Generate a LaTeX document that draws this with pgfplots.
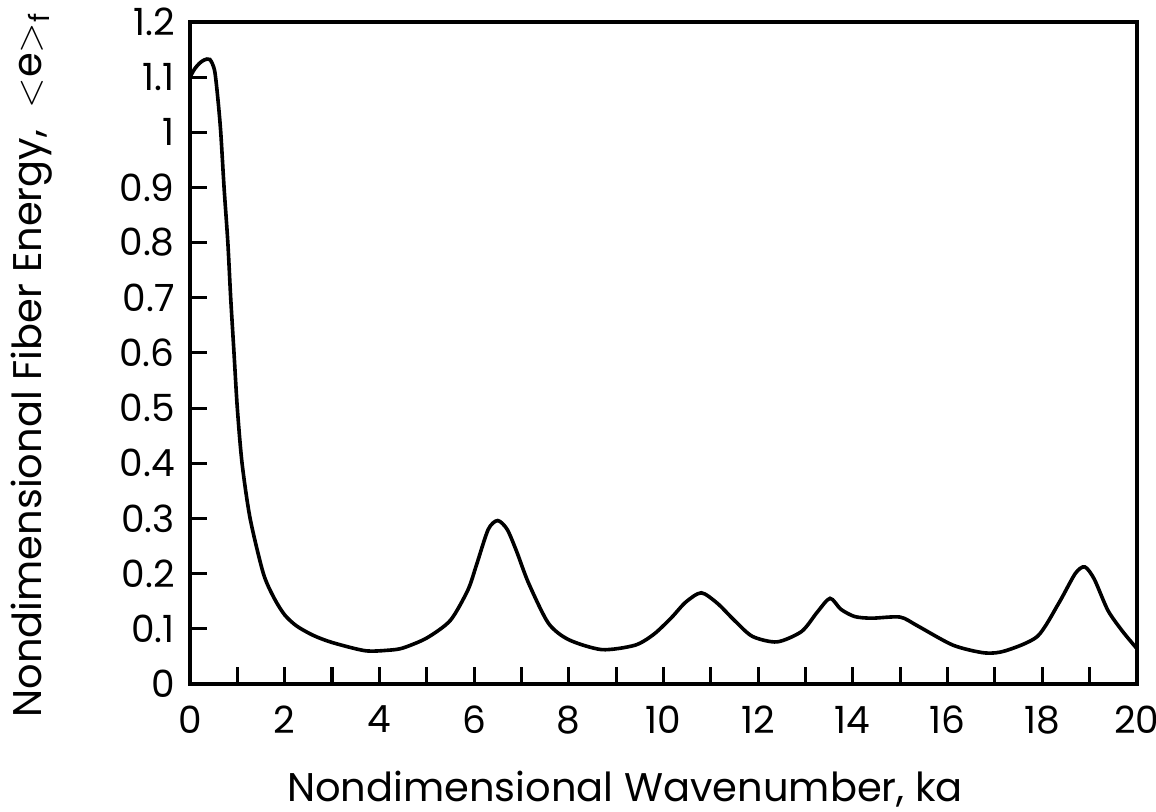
\documentclass[border=0pt]{standalone}
\usepackage{fontspec}
\setmainfont{Poppins}
\usepackage{pgfplots}
\pgfplotsset{compat=1.18}
\begin{document}
\begin{tikzpicture}
\useasboundingbox (-68.4pt,-46.1pt) rectangle (347.8pt,246.2pt);
\begin{axis}[
  scale only axis,
  width=340.9pt, height=238.3pt,
  at={(0pt,0pt)}, anchor=south west,
  xmin=0, xmax=20, ymin=0, ymax=1.2,
  xtick={0,2,...,20},
  minor xtick={1,3,...,19},
  ytick={0,0.1,0.2,0.3,0.4,0.5,0.6,0.7,0.8,0.9,1,1.1,1.2},
  yticklabels={0,0.1,0.2,0.3,0.4,0.5,0.6,0.7,0.8,0.9,1,1.1,1.2},
  xtick pos=bottom, ytick pos=left,
  tick align=inside,
  major tick length=6pt, minor tick length=6pt,
  every tick/.style={line width=1.1pt, black},
  axis line style={line width=1.3pt},
  /pgf/number format/assume math mode=true,
  tick label style={font=\fontsize{13.5}{15}\selectfont},
  xticklabel style={yshift=-4.5pt},
  yticklabel style={xshift=-2pt},
  xlabel={Nondimensional Wavenumber, ka},
  ylabel={Nondimensional Fiber Energy, \ $<$e$>$\textsubscript{f}},
  label style={font=\fontsize{14.4}{16}\selectfont},
  xlabel style={at={(axis description cs:0.4595,0)}, anchor=center, yshift=-38pt},
  ylabel style={at={(axis description cs:-0.1669,0.482)}, anchor=center},
]
\addplot[line width=1.3pt, smooth, tension=0.45] coordinates {
(0,1.10) (0.1,1.115) (0.2,1.125) (0.3,1.131) (0.42,1.132) (0.52,1.112)
(0.59,1.06) (0.65,1.0) (0.72,0.90) (0.8,0.80) (0.86,0.70) (0.93,0.60)
(1.0,0.50) (1.1,0.40) (1.27,0.30) (1.55,0.20) (1.78,0.155) (2.0,0.125)
(2.25,0.105) (2.6,0.088) (3.0,0.075) (3.7,0.060) (4.2,0.061) (4.5,0.065)
(5.0,0.083) (5.5,0.115) (5.87,0.17) (6.05,0.215) (6.3,0.28) (6.5,0.296)
(6.7,0.28) (6.9,0.24) (7.15,0.183) (7.57,0.11) (8.0,0.08) (8.7,0.062)
(9.4,0.07) (9.8,0.09) (10.17,0.12) (10.47,0.148) (10.8,0.165) (11.14,0.146)
(11.5,0.115) (11.88,0.086) (12.4,0.076) (12.92,0.095) (13.25,0.13) (13.52,0.155)
(13.75,0.135) (14.04,0.122) (14.4,0.119) (15.0,0.121) (15.37,0.105) (16.12,0.07)
(16.79,0.056) (17.23,0.060) (17.9,0.086) (18.35,0.146) (18.7,0.200) (18.9,0.212)
(19.1,0.19) (19.39,0.133) (19.7,0.095) (20,0.064)
};
\end{axis}
\end{tikzpicture}
\end{document}
